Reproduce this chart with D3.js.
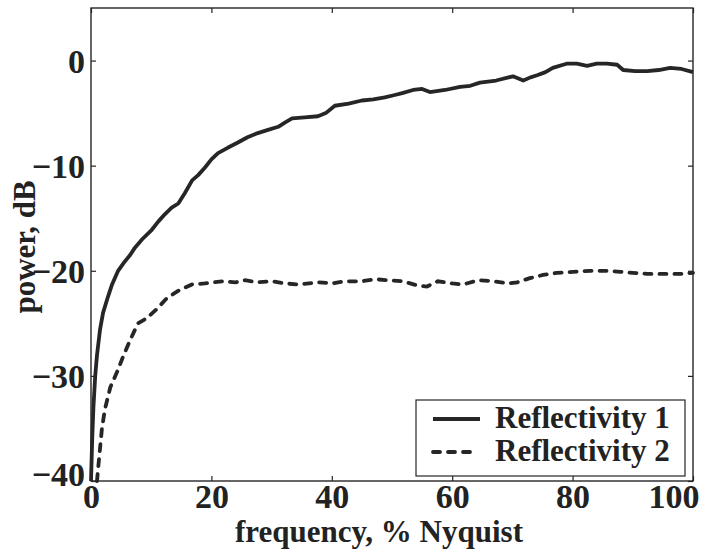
<!DOCTYPE html>
<html>
<head>
<meta charset="utf-8">
<script src="https://cdn.jsdelivr.net/npm/d3@7"></script>
<style>
  body { margin: 0; background: #fff; }
  text { font-family: "Liberation Serif", "Times New Roman", serif; font-weight: bold; fill: #222; }
</style>
</head>
<body>
<div class="div-chart"></div>
<script>
// Reflectivity 1 (solid)
const freq1 = [0, 0.2, 0.4, 0.7, 1.0, 1.5, 2.0, 2.8, 3.5, 4.5,
  5.5, 6.5, 7.3, 8.5, 10.1, 11.2, 12.3, 13.4, 14.5, 15.6,
  16.8, 17.8, 18.9, 20.0, 21.1, 22.7, 24.4, 26.0, 27.7, 29.4,
  31.1, 32.2, 33.4, 35.5, 37.7, 39.0, 40.5, 42.8, 45, 46.9,
  48.8, 50.3, 51.7, 53.5, 55.0, 56.3, 58.8, 61.3, 63.0, 64.6,
  67.3, 70.1, 71.8, 73.0, 74.1, 75.5, 76.7, 79, 80.7, 82.4,
  84.0, 85.7, 87.4, 88.4, 90.4, 92.4, 94.3, 96.2, 98.1, 100];
const power1 = [-40, -36, -33, -30, -28, -25.6, -24, -22.5, -21.3, -20,
  -19.2, -18.5, -17.8, -17, -16.1, -15.3, -14.6, -14.0, -13.6, -12.6,
  -11.4, -10.9, -10.2, -9.4, -8.8, -8.3, -7.8, -7.3, -6.9, -6.6,
  -6.3, -5.9, -5.5, -5.4, -5.3, -5.0, -4.3, -4.1, -3.8, -3.7,
  -3.5, -3.3, -3.1, -2.8, -2.7, -3.0, -2.8, -2.5, -2.4, -2.1,
  -1.9, -1.5, -1.9, -1.6, -1.4, -1.1, -0.7, -0.3, -0.3, -0.5,
  -0.3, -0.3, -0.4, -0.9, -1.0, -1.0, -0.9, -0.7, -0.8, -1.1];

// Reflectivity 2 (dashed)
const freq2 = [1.0, 1.2, 1.8, 2.3, 3.2, 4.5, 5.3, 6.5, 7.8, 9.3,
  11, 12.6, 14.8, 16.8, 18.9, 21.8, 24, 25.6, 27.7, 30.1,
  32.2, 34.4, 37.7, 40, 42.2, 45, 47.2, 49.3, 51.8, 54.2,
  55.8, 57.6, 60, 61.8, 64.3, 66.8, 69.3, 70.8, 72.9, 75.1,
  77.4, 80.1, 82.9, 85.7, 87.9, 90, 92.4, 95, 97.8, 100];
const power2 = [-40, -38.7, -35.1, -33.2, -31.1, -29.4, -28.2, -26.6, -25, -24.5,
  -23.6, -22.6, -21.8, -21.3, -21.2, -21, -21.1, -20.9, -21.1, -21,
  -21.2, -21.3, -21.1, -21.2, -21, -21, -20.8, -20.9, -21, -21.4,
  -21.5, -21, -21.2, -21.3, -20.9, -21, -21.2, -21.1, -20.7, -20.4,
  -20.2, -20.1, -20, -20, -20.1, -20.2, -20.3, -20.3, -20.3, -20.2];

const xTicks = [0, 20, 40, 60, 80, 100];
const yTicks = [-40, -30, -20, -10, 0];
const seriesNames = ["Reflectivity 1", "Reflectivity 2"];

const width = 717,
  height = 550;
const margin = { left: 91, right: 24, top: 8, bottom: 69 };
const ink = "#262626";

const svg = d3
  .select(".div-chart")
  .append("svg")
  .attr("width", width)
  .attr("height", height);

const x = d3.scaleLinear().domain([0, 100]).range([margin.left, width - margin.right]);
const y = d3.scaleLinear().domain([-40, 5]).range([height - margin.bottom, margin.top]);

const plotG = svg.append("g").attr("id", "plot");

// box with inward ticks on all four sides (matlab style)
plotG
  .append("rect")
  .attr("x", x(0))
  .attr("y", y(5))
  .attr("width", x(100) - x(0))
  .attr("height", y(-40) - y(5))
  .attr("fill", "none")
  .attr("stroke", ink)
  .attr("stroke-width", 1.4);

const tickLen = 5;
const axisBottom = plotG.append("g").attr("transform", `translate(0,${y(-40)})`)
  .call(d3.axisBottom(x).tickValues(xTicks).tickSizeInner(-tickLen).tickSizeOuter(0).tickPadding(9).tickFormat(d3.format("d")));
const axisTop = plotG.append("g").attr("transform", `translate(0,${y(5)})`)
  .call(d3.axisTop(x).tickValues(xTicks).tickSizeInner(-tickLen).tickSizeOuter(0).tickFormat(""));
const axisLeft = plotG.append("g").attr("transform", `translate(${x(0)},0)`)
  .call(d3.axisLeft(y).tickValues(yTicks).tickSizeInner(-tickLen).tickSizeOuter(0).tickPadding(6)
    .tickFormat((d) => (d < 0 ? "\u2212" + Math.abs(d) : d)));
const axisRight = plotG.append("g").attr("transform", `translate(${x(100)},0)`)
  .call(d3.axisRight(y).tickValues(yTicks).tickSizeInner(-tickLen).tickSizeOuter(0).tickFormat(""));

[axisBottom, axisTop, axisLeft, axisRight].forEach((g) => {
  g.select(".domain").remove();
  g.selectAll("line").attr("stroke", ink).attr("stroke-width", 1.2);
  g.selectAll("text")
    .attr("font-size", 34)
    .attr("font-family", "Liberation Serif, Times New Roman, serif")
    .attr("font-weight", "bold")
    .attr("fill", "#222");
});
axisLeft.selectAll("text").attr("dy", (d) => (d === -40 ? "0.12em" : "0.34em"));
axisBottom.selectAll("text").attr("dy", "0.52em");
// last label is pulled inside the figure, as in the original
axisBottom
  .selectAll(".tick")
  .filter((d) => d === 100)
  .select("text")
  .attr("text-anchor", "end")
  .attr("x", 6);

// curves
const line = d3
  .line()
  .x((d) => x(d[0]))
  .y((d) => y(d[1]));

const series1 = freq1.map((f, i) => [f, power1[i]]);
const series2 = freq2.map((f, i) => [f, power2[i]]);

plotG
  .append("path")
  .datum(series2)
  .attr("d", line)
  .attr("fill", "none")
  .attr("stroke", ink)
  .attr("stroke-width", 3.8)
  .attr("stroke-linecap", "round")
  .attr("stroke-dasharray", "7,8");

plotG
  .append("path")
  .datum(series1)
  .attr("d", line)
  .attr("fill", "none")
  .attr("stroke", ink)
  .attr("stroke-width", 3.8)
  .attr("stroke-linejoin", "round");

// axis titles
svg
  .append("text")
  .attr("x", 379)
  .attr("y", 542)
  .attr("text-anchor", "middle")
  .attr("font-size", 31)
  .text("frequency, % Nyquist");

svg
  .append("text")
  .attr("transform", "translate(35,247) rotate(-90)")
  .attr("text-anchor", "middle")
  .attr("font-size", 31)
  .text("power, dB");

// legend
const legendG = svg.append("g").attr("id", "legend");
legendG
  .append("rect")
  .attr("x", 416)
  .attr("y", 400)
  .attr("width", 269)
  .attr("height", 76)
  .attr("fill", "#fff")
  .attr("stroke", ink)
  .attr("stroke-width", 1.2);

const legendRows = legendG
  .selectAll(".legend-row")
  .data(seriesNames)
  .join("g")
  .attr("class", "legend-row")
  .attr("transform", (d, i) => `translate(0,${419 + i * 33})`);

legendRows
  .append("line")
  .attr("x1", 433)
  .attr("x2", (d, i) => (i === 0 ? 480 : 472))
  .attr("stroke", ink)
  .attr("stroke-width", 3.8)
  .attr("stroke-linecap", (d, i) => (i === 0 ? "butt" : "round"))
  .attr("stroke-dasharray", (d, i) => (i === 0 ? null : "7,8"));

legendRows
  .append("text")
  .attr("x", 495)
  .attr("y", 9)
  .attr("font-size", 31)
  .text((d) => d);
</script>
</body>
</html>
